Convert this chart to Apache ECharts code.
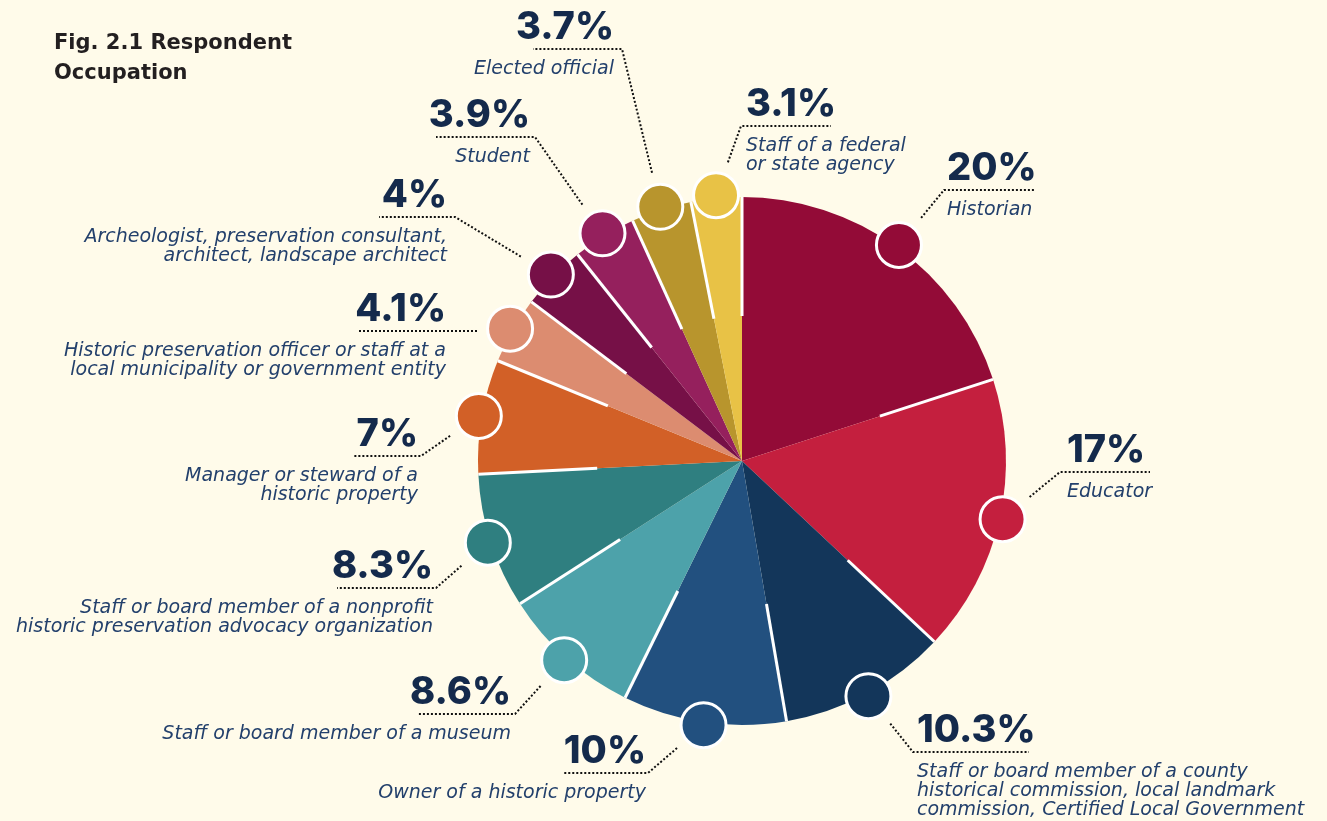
<!DOCTYPE html>
<html lang="en">
<head>
<meta charset="UTF-8">
<title>Respondent Occupation</title>
<script src="https://cdn.jsdelivr.net/npm/echarts@6/dist/echarts.min.js"></script>
<style>
  html, body { margin: 0; padding: 0; background: #fffbea; }
  #main { width: 1327px; height: 821px; }
</style>
</head>
<body>
<div id="main"></div>
<script>
// slices, clockwise from 12 o'clock
var occupations = ['Historian', 'Educator', 'County / landmark commission, CLG staff', 'Owner of a historic property',
  'Museum staff or board', 'Nonprofit advocacy staff or board', 'Manager or steward of a historic property',
  'Municipal preservation officer or staff', 'Archeologist, consultant, architect', 'Student',
  'Elected official', 'Federal or state agency staff'];
var shares = [20, 17, 10.3, 10, 8.6, 8.3, 7, 4.1, 4, 3.9, 3.7, 3.1];
var shareLabels = ['20%', '17%', '10.3%', '10%', '8.6%', '8.3%', '7%', '4.1%', '4%', '3.9%', '3.7%', '3.1%'];
var descLines = [
  ['Historian'],
  ['Educator'],
  ['Staff or board member of a county', 'historical commission, local landmark', 'commission, Certified Local Government'],
  ['Owner of a historic property'],
  ['Staff or board member of a museum'],
  ['Staff or board member of a nonprofit', 'historic preservation advocacy organization'],
  ['Manager or steward of a', 'historic property'],
  ['Historic preservation officer or staff at a', 'local municipality or government entity'],
  ['Archeologist, preservation consultant,', 'architect, landscape architect'],
  ['Student'],
  ['Elected official'],
  ['Staff of a federal', 'or state agency']
];
var colors = ['#930b37', '#c41f3e', '#13365a', '#22507f', '#4da2aa', '#2f7f80',
  '#d26027', '#dc8c70', '#761047', '#95205d', '#b8952d', '#e8c246'];

// label placement: [text x, underline y, underline end at the leader, underline far end]
var labelSpots = [
  [947, 190, 944, 1035],
  [1067, 472, 1060, 1150],
  [917, 752, 913, 1029],
  [646, 773, 648, 564],
  [511, 714, 515, 417],
  [433, 588, 436, 337],
  [418, 456, 421, 354],
  [446, 331, 477, 357],
  [447, 217, 455, 379],
  [530, 137, 535, 436],
  [614, 49, 622, 533],
  [746, 126, 741, 831]
];

var CX = 742, CY = 461, PIE_R = 264, DOT_R = 267, SEP_IN = 145;

var starts = [];
var acc = 0;
for (var i = 0; i < shares.length; i++) {
  starts.push(acc);
  acc += shares[i];
}

var pieData = [];
var dotData = [];
for (var i = 0; i < shares.length; i++) {
  pieData.push({ name: occupations[i], value: shares[i], itemStyle: { color: colors[i] } });
  dotData.push({ value: [DOT_R, starts[i] + shares[i] / 2], itemStyle: { color: colors[i] } });
}

var series = [{
  type: 'pie',
  center: [CX, CY],
  radius: PIE_R,
  startAngle: 90,
  avoidLabelOverlap: false,
  silent: true,
  data: pieData,
  itemStyle: { borderWidth: 0 },
  label: {
    show: true,
    position: 'outside',
    formatter: function (p) {
      var s = '{p|' + shareLabels[p.dataIndex] + '}\n{g| }';
      descLines[p.dataIndex].forEach(function (l) { s += '\n{d|' + l + '}'; });
      return s;
    },
    rich: {
      p: { fontFamily: 'Inter', fontWeight: 800, fontSize: 38, lineHeight: 42, color: '#142a4c' },
      g: { fontSize: 4, lineHeight: 11 },
      d: { fontFamily: 'DejaVu Sans', fontStyle: 'italic', fontSize: 19, lineHeight: 19, color: '#23406c' }
    }
  },
  labelLine: {
    show: true,
    lineStyle: { color: '#111111', width: 2, type: [2, 2] }
  },
  labelLayout: function (p) {
    var i = p.dataIndex, s = labelSpots[i];
    var a = (starts[i] + shares[i] / 2) / 100 * 2 * Math.PI;
    var cx = CX + DOT_R * Math.sin(a), cy = CY - DOT_R * Math.cos(a);
    var dx = s[2] - cx, dy = s[1] - cy, d = Math.sqrt(dx * dx + dy * dy) || 1;
    var gap = Math.min(35, d);
    return {
      x: s[0],
      y: s[1] - 42,
      align: s[2] > s[3] ? 'right' : 'left',
      verticalAlign: 'top',
      labelLinePoints: [[cx + dx / d * gap, cy + dy / d * gap], [s[2], s[1]], [s[3], s[1]]]
    };
  }
}];

// white separators on the outer part of each slice edge
for (var i = 0; i < shares.length; i++) {
  series.push({
    type: 'line',
    coordinateSystem: 'polar',
    silent: true,
    symbol: 'none',
    lineStyle: { color: '#ffffff', width: 3 },
    data: [[SEP_IN, starts[i]], [PIE_R, starts[i]]],
    z: 3
  });
}

series.push({
  type: 'scatter',
  coordinateSystem: 'polar',
  silent: true,
  clip: false,
  symbolSize: 45,
  itemStyle: { borderColor: '#ffffff', borderWidth: 3, opacity: 1 },
  data: dotData,
  z: 4
});

var option = {
  backgroundColor: '#fffbea',
  animation: false,
  title: {
    text: 'Fig. 2.1 Respondent\nOccupation',
    left: 49,
    top: 24,
    textStyle: { fontFamily: 'DejaVu Sans', fontWeight: 'bold', fontSize: 21, lineHeight: 30, color: '#231f20' }
  },
  polar: { center: [CX, CY], radius: 270 },
  angleAxis: { type: 'value', min: 0, max: 100, startAngle: 90, clockwise: true, show: false },
  radiusAxis: { type: 'value', min: 0, max: 270, show: false },
  series: series
};

var myChart = echarts.init(document.getElementById('main'));
myChart.setOption(option);
</script>
</body>
</html>
